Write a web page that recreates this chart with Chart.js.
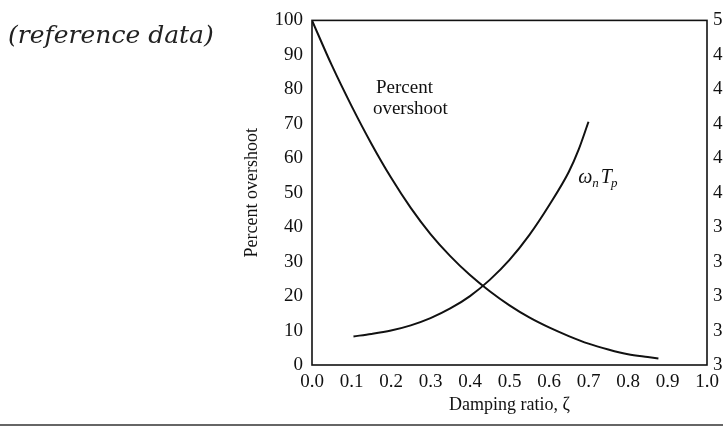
<!DOCTYPE html>
<html><head><meta charset="utf-8">
<script src="https://cdn.jsdelivr.net/npm/chart.js@4"></script>
<style>
html,body{margin:0;padding:0;background:#fff;overflow:hidden;width:723px;height:428px;}
#wrap{position:relative;width:723px;height:428px;overflow:hidden;background:#fff;}
#c{position:absolute;left:0;top:0;}
#ref{position:absolute;left:8px;top:20px;font:italic 25px "DejaVu Serif",serif;color:#222;white-space:nowrap;line-height:30px;}
#rule{position:absolute;left:0;top:424px;width:723px;height:2px;background:#666;}
</style></head>
<body><div id="wrap"><canvas id="c" width="760" height="428"></canvas><div id="ref">(reference data)</div><div id="rule"></div></div>
<script>
// Damping ratio samples and values
const zetaOS = [0, 0.05, 0.1, 0.15, 0.2, 0.25, 0.3, 0.35, 0.4, 0.45, 0.5, 0.55, 0.6, 0.65, 0.7, 0.75, 0.8, 0.85, 0.877];
const percentOvershoot = [100, 87.0, 75.2, 64.3, 54.4, 45.6, 38.0, 31.6, 26.1, 21.4, 17.3, 13.8, 10.9, 8.4, 6.2, 4.5, 3.1, 2.3, 1.9];
const zetaTp = [0.105, 0.15, 0.2, 0.25, 0.3, 0.35, 0.4, 0.45, 0.5, 0.55, 0.6, 0.65, 0.675, 0.7];
const wnTp = [3.166, 3.180, 3.200, 3.230, 3.272, 3.328, 3.400, 3.494, 3.610, 3.754, 3.926, 4.120, 4.250, 4.412];
const xTicks = [0, 0.1, 0.2, 0.3, 0.4, 0.5, 0.6, 0.7, 0.8, 0.9, 1.0];
const leftTicks = [0, 10, 20, 30, 40, 50, 60, 70, 80, 90, 100];
const rightTicks = [3.0, 3.2, 3.4, 3.6, 3.8, 4.0, 4.2, 4.4, 4.6, 4.8, 5.0];

const SERIF = '"Liberation Serif", "Times New Roman", serif';
Chart.defaults.font.family = SERIF;
Chart.defaults.font.size = 19;
Chart.defaults.color = '#111';

const frame = {
  id: 'frame',
  afterDraw(chart) {
    const {ctx, chartArea: a} = chart;
    ctx.save();
    ctx.strokeStyle = '#111';
    ctx.lineWidth = 1.6;
    ctx.strokeRect(a.left, a.top, a.right - a.left, a.bottom - a.top);
    ctx.restore();
  }
};

const annot = {
  id: 'annot',
  afterDatasetsDraw(chart) {
    const {ctx, scales: {x, y}} = chart;
    ctx.save();
    ctx.fillStyle = '#111';
    ctx.font = '19px ' + SERIF;
    ctx.textAlign = 'center';
    ctx.textBaseline = 'middle';
    ctx.fillText('Percent', x.getPixelForValue(0.234), y.getPixelForValue(80.5));
    ctx.fillText('overshoot', x.getPixelForValue(0.249), y.getPixelForValue(74.2));
    ctx.textAlign = 'left';
    ctx.textBaseline = 'alphabetic';
    let px = x.getPixelForValue(0.674), py = y.getPixelForValue(52.8);
    const big = 'italic 20px ' + SERIF, small = 'italic 13px ' + SERIF;
    ctx.font = big; ctx.fillText('ω', px, py); px += ctx.measureText('ω').width;
    ctx.font = small; ctx.fillText('n', px, py + 4); px += ctx.measureText('n').width + 2;
    ctx.font = big; ctx.fillText('T', px, py); px += ctx.measureText('T').width - 1;
    ctx.font = small; ctx.fillText('p', px, py + 4);
    ctx.restore();
  }
};

new Chart(document.getElementById('c'), {
  type: 'scatter',
  data: {
    datasets: [
      {
        label: 'Percent overshoot',
        data: zetaOS.map((z, i) => ({x: z, y: percentOvershoot[i]})),
        yAxisID: 'y',
        showLine: true, borderColor: '#111', borderWidth: 2,
        pointRadius: 0, cubicInterpolationMode: 'monotone'
      },
      {
        label: 'ωnTp',
        data: zetaTp.map((z, i) => ({x: z, y: wnTp[i]})),
        yAxisID: 'y2',
        showLine: true, borderColor: '#111', borderWidth: 2,
        pointRadius: 0, cubicInterpolationMode: 'monotone'
      }
    ]
  },
  options: {
    responsive: false,
    animation: false,
    layout: {padding: {left: 237, top: 15, right: 0, bottom: 8}},
    plugins: {legend: {display: false}, tooltip: {enabled: false}},
    scales: {
      x: {
        type: 'linear', min: 0, max: 1,
        afterBuildTicks: s => { s.ticks = xTicks.map(v => ({value: v})); },
        afterFit: s => { s.height = 55; },
        grid: {display: false, drawTicks: false},
        border: {display: false},
        ticks: {padding: 6, maxRotation: 0, callback: v => Number(v).toFixed(1)},
        title: {display: true, text: 'Damping ratio, ζ', font: {size: 18}, padding: {top: 4, bottom: 4}}
      },
      y: {
        type: 'linear', position: 'left', min: 0, max: 100,
        afterBuildTicks: s => { s.ticks = leftTicks.map(v => ({value: v})); },
        afterFit: s => { s.width = 75; },
        grid: {display: false, drawTicks: false},
        border: {display: false},
        ticks: {padding: 9},
        title: {display: true, text: 'Percent overshoot', font: {size: 18}, padding: {top: 4, bottom: 4}}
      },
      y2: {
        type: 'linear', position: 'right', min: 3, max: 5,
        afterBuildTicks: s => { s.ticks = rightTicks.map(v => ({value: v})); },
        afterFit: s => { s.width = 53; },
        grid: {display: false, drawTicks: false},
        border: {display: false},
        ticks: {padding: 6, callback: v => Number(v).toFixed(1)}
      }
    }
  },
  plugins: [frame, annot]
});
</script>
</body></html>
